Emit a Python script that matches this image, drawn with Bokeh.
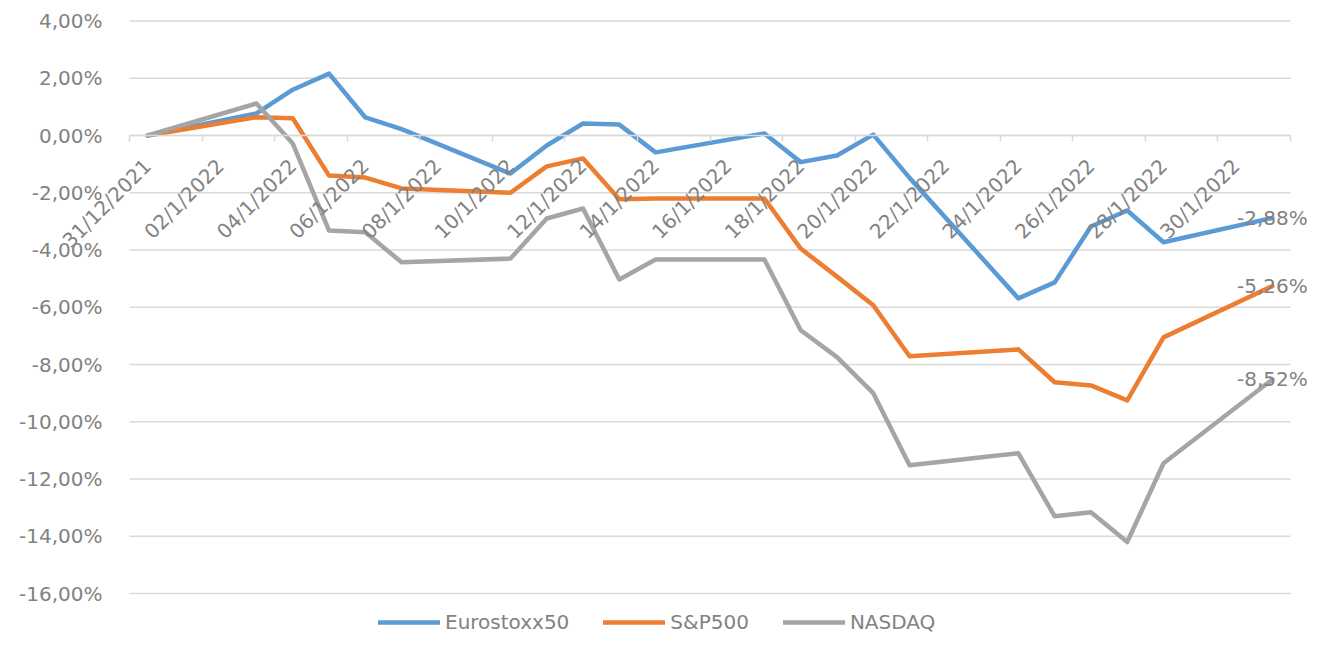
import pandas as pd
from bokeh.plotting import figure
from bokeh.models import (Range1d, FixedTicker, CustomJSTickFormatter,
                          Legend, LegendItem, ColumnDataSource)
from bokeh.core.properties import value
from bokeh.embed import file_html
from bokeh.resources import INLINE

# ---------------- data ----------------
dates = ["31/12/2021", "03/1/2022", "04/1/2022", "05/1/2022", "06/1/2022", "07/1/2022",
         "10/1/2022", "11/1/2022", "12/1/2022", "13/1/2022", "14/1/2022",
         "17/1/2022", "18/1/2022", "19/1/2022", "20/1/2022", "21/1/2022",
         "24/1/2022", "25/1/2022", "26/1/2022", "27/1/2022", "28/1/2022", "31/1/2022"]

eurostoxx50 = [0.00, 0.77, 1.60, 2.16, 0.63, 0.22,
               -1.33, -0.35, 0.42, 0.38, -0.59,
               0.07, -0.93, -0.70, 0.03, -1.48,
               -5.69, -5.13, -3.18, -2.62, -3.73, -2.88]

sp500 = [0.00, 0.64, 0.60, -1.40, -1.47, -1.85,
         -2.00, -1.08, -0.80, -2.23, -2.20,
         -2.20, -3.95, -4.93, -5.93, -7.71,
         -7.47, -8.62, -8.73, -9.25, -7.05, -5.26]

nasdaq = [0.00, 1.12, -0.28, -3.32, -3.38, -4.43,
          -4.30, -2.90, -2.55, -5.03, -4.33,
          -4.33, -6.80, -7.74, -9.00, -11.52,
          -11.10, -13.30, -13.16, -14.20, -11.45, -8.52]

series_names = ["Eurostoxx50", "S&P500", "NASDAQ"]
series_colors = ["#5B9BD5", "#ED7D31", "#A5A5A5"]

x_tick_labels = ["31/12/2021", "02/1/2022", "04/1/2022", "06/1/2022", "08/1/2022",
                 "10/1/2022", "12/1/2022", "14/1/2022", "16/1/2022", "18/1/2022",
                 "20/1/2022", "22/1/2022", "24/1/2022", "26/1/2022", "28/1/2022",
                 "30/1/2022"]

y_ticks = [-16, -14, -12, -10, -8, -6, -4, -2, 0, 2, 4]

# ---------------- layout constants (pixels) ----------------
W, H = 1312, 635
PLOT_L, PLOT_R = 129, 1290      # plot area left/right edge in canvas pixels
ZERO_Y = 135                    # canvas y of the 0% line
PX_PER_PCT = 28.63

FONT = "DejaVu Sans"
TXT = "#828282"
GRID = "#d9d9d9"

d0 = pd.to_datetime(dates[0], format="%d/%m/%Y")
def day_index(s):
    return (pd.to_datetime(s, format="%d/%m/%Y") - d0).days

xs = [day_index(s) for s in dates]
x_label_pos = [day_index(s) for s in x_tick_labels]
x_start, x_end = xs[0] - 0.5, xs[-1] + 0.5
boundaries = [x_start + 2 * k for k in range(int((x_end - x_start) // 2) + 1)]

px_per_day = (PLOT_R - PLOT_L) / (x_end - x_start)
xr = Range1d(x_start - PLOT_L / px_per_day, x_start + (W - PLOT_L) / px_per_day)
yr = Range1d(-(H - ZERO_Y) / PX_PER_PCT, ZERO_Y / PX_PER_PCT)

def pct(v):
    return f"{v:.2f}".replace(".", ",") + "%"

# ---------------- figure ----------------
p = figure(width=W, height=H, x_range=xr, y_range=yr,
           output_backend="svg", toolbar_location=None,
           min_border_left=0, min_border_right=0, min_border_top=0, min_border_bottom=0)
p.outline_line_color = None
p.background_fill_color = "white"
p.border_fill_color = "white"
p.xgrid.visible = False
p.ygrid.visible = False

# horizontal gridlines limited to the plot area
p.segment(x0=[x_start] * len(y_ticks), x1=[x_end] * len(y_ticks), y0=y_ticks, y1=y_ticks,
          line_color=GRID, line_width=1.5)

# y axis drawn at the left edge of the plot area
p.yaxis.fixed_location = x_start
p.yaxis.ticker = FixedTicker(ticks=y_ticks)
p.yaxis.formatter = CustomJSTickFormatter(code="return tick.toFixed(2).replace('.', ',') + '%';")
p.yaxis.axis_line_color = None
p.yaxis.major_tick_line_color = None
p.yaxis.minor_tick_line_color = None
p.yaxis.major_tick_out = 0
p.yaxis.major_tick_in = 0
p.yaxis.major_label_standoff = 27
p.yaxis.major_label_text_font = FONT
p.yaxis.major_label_text_font_size = "20px"
p.yaxis.major_label_text_color = TXT

# x axis line at 0% with small tick marks at day boundaries
p.xaxis.fixed_location = 0
p.xaxis.bounds = (x_start, x_end)
p.xaxis.ticker = FixedTicker(ticks=[], minor_ticks=boundaries)
p.xaxis.axis_line_color = GRID
p.xaxis.axis_line_width = 1.5
p.xaxis.major_tick_line_color = None
p.xaxis.minor_tick_line_color = GRID
p.xaxis.minor_tick_line_width = 1.5
p.xaxis.minor_tick_out = 6
p.xaxis.minor_tick_in = 0

# lines
items = []
for name, vals, col in zip(series_names, [eurostoxx50, sp500, nasdaq], series_colors):
    r = p.line(xs, vals, line_color=col, line_width=4.5, line_join="round", line_cap="round")
    items.append(LegendItem(label=name, renderers=[r]))

# rotated date labels under the 0% line
xl_src = ColumnDataSource(dict(x=x_label_pos, y=[0] * len(x_label_pos), t=x_tick_labels))
p.text(x="x", y="y", text="t", source=xl_src, angle=45, angle_units="deg",
       y_offset=27, text_align="right", text_baseline="middle",
       text_font=value(FONT), text_font_size="20px", text_color=TXT)

# end-point value labels
last_vals = [eurostoxx50[-1], sp500[-1], nasdaq[-1]]
vl_src = ColumnDataSource(dict(x=[xs[-1]] * 3, y=last_vals, t=[pct(v) for v in last_vals]))
p.text(x="x", y="y", text="t", source=vl_src, text_align="center", text_baseline="middle",
       text_font=value(FONT), text_font_size="20px", text_color=TXT)

# legend
legend = Legend(items=items, orientation="horizontal", location=(378, 1),
                glyph_width=62, glyph_height=20, label_standoff=5, spacing=34,
                padding=0, margin=0, border_line_color=None, background_fill_alpha=0,
                label_text_font=FONT, label_text_font_size="20px", label_text_color=TXT)
p.add_layout(legend)

open("out.html", "w").write(file_html(p, INLINE))
